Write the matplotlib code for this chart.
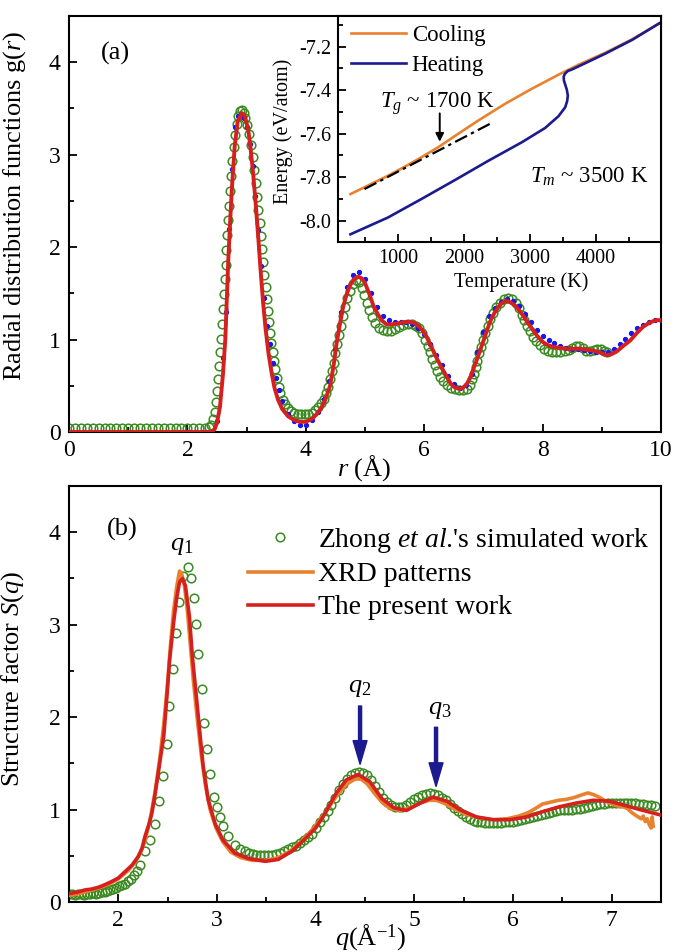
import numpy as np
import matplotlib.pyplot as plt
from matplotlib.ticker import MultipleLocator

plt.rcParams['font.family'] = ['Liberation Serif', 'DejaVu Serif']
plt.rcParams['mathtext.fontset'] = 'custom'
plt.rcParams['mathtext.rm'] = 'Liberation Serif'
plt.rcParams['mathtext.it'] = 'Liberation Serif:italic'
plt.rcParams['axes.unicode_minus'] = False

# ---------------- (a) g(r) ----------------
# Zhong et al. (open circles)
zhong_gr = [
    (0.0, 0.04), (0.1, 0.04), (0.2, 0.04), (0.3, 0.04), (0.4, 0.04), (0.5, 0.04), (0.6, 0.04),
    (0.7, 0.04), (0.8, 0.04), (0.9, 0.04), (1.0, 0.04), (1.1, 0.04), (1.2, 0.04), (1.3, 0.04),
    (1.4, 0.04), (1.5, 0.04), (1.6, 0.04), (1.7, 0.04), (1.8, 0.04), (1.9, 0.04), (2.0, 0.04),
    (2.1, 0.04), (2.2, 0.04), (2.3, 0.04),
    (2.36, 0.05), (2.40, 0.08), (2.43, 0.14), (2.46, 0.22), (2.48, 0.32), (2.50, 0.44), (2.52, 0.57),
    (2.54, 0.71), (2.555, 0.86), (2.57, 1.01), (2.585, 1.17), (2.60, 1.33), (2.615, 1.49), (2.63, 1.65),
    (2.645, 1.81), (2.66, 1.97), (2.675, 2.13), (2.69, 2.29), (2.705, 2.45), (2.72, 2.61), (2.74, 2.77),
    (2.76, 2.93), (2.78, 3.08), (2.80, 3.21), (2.83, 3.33), (2.86, 3.42), (2.89, 3.47), (2.92, 3.48),
    (2.95, 3.45), (2.98, 3.40), (3.01, 3.32), (3.04, 3.22), (3.07, 3.10), (3.10, 2.97), (3.13, 2.83),
    (3.155, 2.69), (3.18, 2.54), (3.20, 2.40), (3.22, 2.26), (3.24, 2.12), (3.26, 1.98), (3.28, 1.84),
    (3.30, 1.70), (3.32, 1.57), (3.34, 1.44), (3.36, 1.31), (3.38, 1.19), (3.40, 1.07), (3.42, 0.96),
    (3.44, 0.86), (3.46, 0.77), (3.48, 0.68), (3.51, 0.58), (3.54, 0.49), (3.57, 0.42), (3.61, 0.35),
    (3.65, 0.30), (3.70, 0.26), (3.75, 0.23), (3.80, 0.21), (3.86, 0.20), (3.92, 0.19), (3.98, 0.19),
    (4.04, 0.20), (4.10, 0.21), (4.16, 0.24), (4.21, 0.27), (4.26, 0.31), (4.30, 0.36), (4.34, 0.42),
    (4.38, 0.49), (4.41, 0.57), (4.44, 0.66), (4.47, 0.75), (4.50, 0.85), (4.53, 0.95), (4.56, 1.05),
    (4.59, 1.15), (4.62, 1.25), (4.66, 1.35), (4.70, 1.45), (4.74, 1.53), (4.79, 1.60), (4.85, 1.64),
    (4.90, 1.62), (4.95, 1.56), (4.99, 1.48), (5.03, 1.40), (5.07, 1.32), (5.12, 1.24), (5.17, 1.18),
    (5.23, 1.13), (5.30, 1.10), (5.37, 1.09), (5.44, 1.09), (5.51, 1.11), (5.58, 1.14), (5.65, 1.16),
    (5.72, 1.17), (5.79, 1.17), (5.86, 1.15), (5.92, 1.12), (5.97, 1.07), (6.02, 1.00), (6.06, 0.93),
    (6.10, 0.86), (6.14, 0.79), (6.18, 0.72), (6.22, 0.66), (6.27, 0.60), (6.32, 0.55), (6.38, 0.51),
    (6.45, 0.48), (6.52, 0.46), (6.59, 0.45), (6.66, 0.45), (6.72, 0.47), (6.77, 0.51), (6.81, 0.57),
    (6.84, 0.63), (6.87, 0.70), (6.90, 0.77), (6.93, 0.85), (6.96, 0.92), (6.99, 1.00), (7.03, 1.07),
    (7.07, 1.15), (7.11, 1.22), (7.16, 1.29), (7.22, 1.35), (7.28, 1.40), (7.35, 1.44), (7.42, 1.45),
    (7.49, 1.44), (7.55, 1.40), (7.60, 1.34), (7.65, 1.27), (7.69, 1.21), (7.73, 1.15), (7.78, 1.09),
    (7.83, 1.03), (7.89, 0.98), (7.95, 0.94), (8.02, 0.90), (8.09, 0.88), (8.16, 0.87), (8.23, 0.87),
    (8.30, 0.87), (8.37, 0.88), (8.44, 0.89), (8.50, 0.91), (8.56, 0.93), (8.62, 0.93), (8.68, 0.91),
    (8.74, 0.88), (8.80, 0.88), (8.86, 0.89), (8.92, 0.90), (8.98, 0.90), (9.04, 0.88), (9.09, 0.86),
]

# blue dots
dots_gr = [
    (2.50, 0.12), (2.60, 0.80), (2.65, 1.30), (2.70, 2.20), (2.75, 2.85), (2.80, 3.30), (2.85, 3.42),
    (2.90, 3.44), (2.95, 3.40), (3.00, 3.30), (3.05, 3.12), (3.10, 2.88), (3.15, 2.55), (3.20, 2.18),
    (3.25, 1.80), (3.30, 1.45), (3.35, 1.15), (3.40, 0.95), (3.45, 0.75), (3.50, 0.58), (3.55, 0.45),
    (3.60, 0.34), (3.70, 0.20), (3.80, 0.12), (3.90, 0.08), (4.00, 0.08), (4.10, 0.13), (4.20, 0.22),
    (4.30, 0.36), (4.40, 0.55), (4.50, 0.90), (4.60, 1.30), (4.70, 1.57), (4.80, 1.70), (4.90, 1.73),
    (5.00, 1.66), (5.10, 1.50), (5.20, 1.35), (5.30, 1.26), (5.40, 1.21), (5.50, 1.19), (5.60, 1.19),
    (5.70, 1.19), (5.80, 1.17), (5.90, 1.13), (6.00, 1.06), (6.10, 0.95), (6.20, 0.83), (6.30, 0.72),
    (6.40, 0.61), (6.50, 0.52), (6.60, 0.48), (6.70, 0.51), (6.80, 0.63), (6.90, 0.86), (7.00, 1.08),
    (7.10, 1.25), (7.20, 1.34), (7.30, 1.41), (7.40, 1.44), (7.50, 1.42), (7.60, 1.36), (7.70, 1.28),
    (7.80, 1.19), (7.90, 1.10), (8.00, 1.04), (8.10, 1.00), (8.20, 0.96), (8.30, 0.93), (8.40, 0.91),
    (8.50, 0.90), (8.60, 0.90), (8.70, 0.89), (8.80, 0.88), (8.90, 0.87), (9.00, 0.86), (9.10, 0.87),
    (9.20, 0.90), (9.30, 0.95), (9.40, 1.01), (9.50, 1.07), (9.60, 1.12), (9.70, 1.16), (9.80, 1.19),
    (9.90, 1.21), (10.0, 1.21),
]

# present work
present_gr = [
    (0.0, 0.0), (2.40, 0.0), (2.46, 0.03), (2.50, 0.10), (2.55, 0.27), (2.60, 0.62), (2.64, 1.00),
    (2.69, 1.85), (2.72, 2.25), (2.75, 2.62), (2.80, 3.10), (2.85, 3.36), (2.92, 3.45), (2.97, 3.42),
    (3.03, 3.26), (3.07, 3.05), (3.11, 2.80), (3.16, 2.42), (3.20, 2.08), (3.24, 1.72), (3.28, 1.39),
    (3.32, 1.12), (3.37, 0.85), (3.42, 0.65), (3.47, 0.48), (3.53, 0.35), (3.60, 0.25), (3.70, 0.17),
    (3.80, 0.13), (3.90, 0.11), (4.00, 0.11), (4.10, 0.14), (4.18, 0.19), (4.26, 0.26), (4.33, 0.35),
    (4.41, 0.50), (4.47, 0.72), (4.52, 0.96), (4.58, 1.18), (4.63, 1.35), (4.69, 1.49), (4.75, 1.59),
    (4.82, 1.66), (4.89, 1.68), (4.95, 1.66), (5.00, 1.61), (5.07, 1.50), (5.14, 1.37), (5.21, 1.28),
    (5.28, 1.21), (5.35, 1.17), (5.42, 1.16), (5.50, 1.17), (5.59, 1.18), (5.68, 1.19), (5.76, 1.19),
    (5.83, 1.18), (5.90, 1.15), (5.97, 1.10), (6.04, 1.03), (6.12, 0.92), (6.21, 0.80), (6.30, 0.69),
    (6.38, 0.60), (6.45, 0.52), (6.52, 0.48), (6.60, 0.465), (6.66, 0.48), (6.72, 0.52), (6.78, 0.59),
    (6.83, 0.68), (6.90, 0.80), (6.97, 0.93), (7.04, 1.06), (7.11, 1.19), (7.18, 1.28), (7.25, 1.35),
    (7.32, 1.40), (7.39, 1.42), (7.46, 1.40), (7.53, 1.37), (7.60, 1.32), (7.67, 1.26), (7.75, 1.18),
    (7.84, 1.10), (7.92, 1.03), (8.01, 0.97), (8.09, 0.94), (8.18, 0.92), (8.30, 0.91), (8.41, 0.90),
    (8.52, 0.90), (8.63, 0.90), (8.75, 0.89), (8.86, 0.88), (8.97, 0.86), (9.08, 0.83), (9.16, 0.84),
    (9.25, 0.87), (9.36, 0.93), (9.48, 0.99), (9.59, 1.07), (9.70, 1.14), (9.80, 1.18), (9.87, 1.20),
    (9.93, 1.21), (10.0, 1.21),
]

# ---------------- inset: energy vs temperature ----------------
cool_T = [274, 560, 842, 1100, 1350, 1604, 1909, 2214, 2621, 3026, 3433, 3738, 4145, 4551, 4957, 4990]
cool_E = [-7.878, -7.836, -7.794, -7.752, -7.709, -7.663, -7.601, -7.540, -7.463, -7.394, -7.329, -7.283,
          -7.228, -7.166, -7.094, -7.089]
heat_T = [274, 842, 1350, 1858, 2367, 2875, 3230, 3433, 3535, 3565, 3575, 3560, 3540, 3515, 3512, 3530,
          3575, 3637, 3840, 4145, 4551, 4957, 4990]
heat_E = [-8.063, -7.986, -7.901, -7.814, -7.725, -7.640, -7.574, -7.520, -7.479, -7.450, -7.425, -7.398,
          -7.379, -7.355, -7.338, -7.325, -7.312, -7.305, -7.276, -7.232, -7.169, -7.094, -7.089]
glass_fit_T = [487, 2392]
glass_fit_E = [-7.855, -7.555]

# ---------------- (b) S(q) ----------------
zhong_sq = [
    (1.50, 0.09), (1.53, 0.09), (1.56, 0.08), (1.59, 0.09), (1.62, 0.09), (1.65, 0.08), (1.68, 0.09),
    (1.71, 0.09), (1.74, 0.10), (1.77, 0.09), (1.80, 0.10), (1.83, 0.11), (1.86, 0.11), (1.89, 0.12),
    (1.92, 0.13), (1.95, 0.14), (1.98, 0.15), (2.01, 0.17), (2.04, 0.18), (2.07, 0.20), (2.10, 0.23),
    (2.13, 0.25), (2.16, 0.29), (2.19, 0.33), (2.22, 0.40), (2.27, 0.55), (2.32, 0.67), (2.37, 0.84),
    (2.415, 1.09), (2.456, 1.36), (2.489, 1.71), (2.516, 2.12), (2.550, 2.52), (2.584, 2.91),
    (2.614, 3.24), (2.658, 3.53), (2.702, 3.62), (2.736, 3.51), (2.770, 3.29), (2.783, 3.01),
    (2.810, 2.68), (2.844, 2.30), (2.871, 1.94), (2.895, 1.65), (2.928, 1.38), (2.972, 1.14),
    (2.996, 1.03), (3.030, 0.92), (3.064, 0.82), (3.114, 0.71), (3.18, 0.62), (3.23, 0.57), (3.28, 0.55),
    (3.32, 0.53), (3.36, 0.52), (3.40, 0.51), (3.44, 0.51), (3.48, 0.51), (3.52, 0.51), (3.56, 0.51),
    (3.60, 0.52), (3.64, 0.53), (3.68, 0.55), (3.72, 0.57), (3.76, 0.59), (3.80, 0.61), (3.84, 0.64),
    (3.88, 0.67), (3.92, 0.70), (3.96, 0.74), (4.00, 0.80), (4.04, 0.86), (4.08, 0.92), (4.12, 0.98),
    (4.16, 1.05), (4.20, 1.13), (4.24, 1.21), (4.28, 1.28), (4.32, 1.33), (4.36, 1.37), (4.40, 1.40),
    (4.44, 1.41), (4.48, 1.40), (4.52, 1.37), (4.56, 1.32), (4.60, 1.26), (4.64, 1.19), (4.68, 1.13),
    (4.72, 1.08), (4.76, 1.05), (4.80, 1.03), (4.84, 1.03), (4.88, 1.03), (4.92, 1.05), (4.96, 1.08),
    (5.00, 1.11), (5.04, 1.14), (5.08, 1.16), (5.12, 1.17), (5.16, 1.18), (5.20, 1.17), (5.24, 1.16),
    (5.28, 1.13), (5.32, 1.10), (5.36, 1.06), (5.40, 1.02), (5.44, 0.98), (5.48, 0.95), (5.52, 0.92),
    (5.56, 0.90), (5.60, 0.88), (5.64, 0.87), (5.68, 0.86), (5.72, 0.85), (5.76, 0.85), (5.80, 0.85),
    (5.84, 0.85), (5.88, 0.85), (5.92, 0.86), (5.96, 0.86), (6.00, 0.87), (6.04, 0.88), (6.08, 0.89),
    (6.12, 0.90), (6.16, 0.91), (6.20, 0.92), (6.24, 0.93), (6.28, 0.94), (6.32, 0.95), (6.36, 0.96),
    (6.40, 0.97), (6.44, 0.98), (6.48, 0.99), (6.52, 0.99), (6.56, 1.00), (6.60, 1.00), (6.64, 1.01),
    (6.68, 1.01), (6.72, 1.02), (6.76, 1.03), (6.80, 1.04), (6.84, 1.05), (6.88, 1.06), (6.92, 1.06),
    (6.96, 1.07), (7.00, 1.07), (7.04, 1.07), (7.08, 1.07), (7.12, 1.07), (7.16, 1.07), (7.20, 1.07),
    (7.24, 1.07), (7.28, 1.06), (7.32, 1.06), (7.36, 1.05), (7.40, 1.05), (7.44, 1.04),
]

xrd_sq = [
    (1.50, 0.07), (1.60, 0.09), (1.70, 0.12), (1.80, 0.15), (1.90, 0.19), (2.00, 0.25), (2.10, 0.34),
    (2.17, 0.43), (2.22, 0.52), (2.27, 0.66), (2.32, 0.88), (2.37, 1.18), (2.42, 1.55), (2.46, 1.92),
    (2.50, 2.38), (2.53, 2.80), (2.56, 3.15), (2.59, 3.40), (2.62, 3.58), (2.64, 3.56), (2.67, 3.42),
    (2.70, 3.15), (2.73, 2.78), (2.76, 2.40), (2.80, 1.98), (2.84, 1.60), (2.88, 1.28), (2.93, 1.00),
    (2.99, 0.80), (3.06, 0.65), (3.14, 0.54), (3.24, 0.48), (3.36, 0.45), (3.50, 0.45), (3.62, 0.48),
    (3.74, 0.55), (3.86, 0.66), (3.98, 0.80), (4.10, 0.97), (4.22, 1.16), (4.32, 1.28), (4.40, 1.33),
    (4.46, 1.33), (4.52, 1.28), (4.60, 1.17), (4.68, 1.07), (4.76, 1.01), (4.86, 0.99), (4.96, 1.02),
    (5.06, 1.07), (5.15, 1.10), (5.22, 1.10), (5.30, 1.07), (5.40, 1.01), (5.52, 0.95), (5.66, 0.91),
    (5.80, 0.89), (5.94, 0.90), (6.06, 0.93), (6.16, 0.97), (6.24, 1.02), (6.30, 1.06), (6.38, 1.08),
    (6.46, 1.10), (6.54, 1.11), (6.62, 1.13), (6.70, 1.16), (6.76, 1.18), (6.82, 1.16), (6.88, 1.13),
    (6.94, 1.09), (7.00, 1.06), (7.06, 1.04), (7.12, 1.03), (7.16, 1.01), (7.20, 0.97), (7.24, 0.94),
    (7.27, 0.92), (7.30, 0.90), (7.32, 0.93), (7.34, 0.87), (7.36, 0.90), (7.38, 0.84), (7.40, 0.80),
    (7.41, 0.92), (7.42, 0.82),
]

present_sq = [
    (1.50, 0.09), (1.60, 0.11), (1.66, 0.13), (1.73, 0.14), (1.80, 0.16), (1.87, 0.19), (1.93, 0.22),
    (2.00, 0.26), (2.07, 0.33), (2.14, 0.40), (2.20, 0.49), (2.24, 0.58), (2.27, 0.71), (2.31, 0.84),
    (2.34, 0.96), (2.37, 1.15), (2.40, 1.36), (2.43, 1.58), (2.46, 1.79), (2.49, 2.19), (2.52, 2.62),
    (2.56, 3.02), (2.59, 3.28), (2.62, 3.46), (2.65, 3.50), (2.68, 3.42), (2.72, 3.09), (2.75, 2.66),
    (2.79, 2.23), (2.83, 1.79), (2.86, 1.47), (2.91, 1.11), (2.98, 0.85), (3.06, 0.67), (3.18, 0.53),
    (3.32, 0.47), (3.49, 0.44), (3.62, 0.46), (3.76, 0.55), (3.89, 0.68), (4.00, 0.80), (4.08, 0.93),
    (4.21, 1.18), (4.31, 1.32), (4.43, 1.38), (4.55, 1.30), (4.67, 1.12), (4.79, 1.02), (4.92, 0.99),
    (5.06, 1.07), (5.19, 1.135), (5.33, 1.09), (5.46, 1.00), (5.63, 0.92), (5.80, 0.89), (5.97, 0.89),
    (6.14, 0.92), (6.31, 0.98), (6.47, 1.03), (6.64, 1.07), (6.81, 1.10), (6.98, 1.09), (7.15, 1.04),
    (7.32, 0.99), (7.50, 0.94),
]

RED = '#D6201F'
GREEN = '#3B8A22'
ORANGE = '#E8822E'
NAVY = '#1B1A8E'
BLUE = '#1616F0'

W, H = 674, 952
fig = plt.figure(figsize=(W / 100, H / 100), dpi=100)


def px_axes(left, top, right, bottom):
    return fig.add_axes([left / W, 1 - bottom / H, (right - left) / W, (bottom - top) / H])


def style(ax, size):
    for s in ax.spines.values():
        s.set_linewidth(1.5)
    ax.tick_params(which='both', direction='in', width=1.3, labelsize=size, pad=6,
                   top=False, right=False)
    ax.tick_params(which='major', length=6)
    ax.tick_params(which='minor', length=3.5)


# ---------- panel (a) ----------
ax = px_axes(69, 16, 661, 432)
r, g = np.array(zhong_gr).T
ax.plot(r, g, 'o', mfc='none', mec=GREEN, ms=6.2, mew=1.1, zorder=2)
r, g = np.array(dots_gr).T
ax.plot(r, g, 'o', color=BLUE, ms=2.8, zorder=3)
r, g = np.array(present_gr).T
ax.plot(r, g, '-', color=RED, lw=2.8, zorder=4)
ax.set_xlim(0, 10)
ax.set_ylim(0, 4.5)
ax.xaxis.set_major_locator(MultipleLocator(2))
ax.xaxis.set_minor_locator(MultipleLocator(1))
ax.yaxis.set_major_locator(MultipleLocator(1))
ax.yaxis.set_minor_locator(MultipleLocator(0.5))
style(ax, 17)
ax.set_xlabel(r'$r$ (Å)', fontsize=19)
ax.xaxis.set_label_coords(0.498, -0.05)
ax.xaxis.label.set_va('top')
ax.set_ylabel(r'Radial distribution functions g($r$)', fontsize=19)
ax.yaxis.set_label_coords(-0.069, 0.543)
ax.text(0.78, 4.09, '(a)', fontsize=19, ha='center', va='center')

# ---------- inset ----------
ins = px_axes(338, 16, 661, 241.7)
ins.plot(cool_T, cool_E, color=ORANGE, lw=1.9, label='Cooling')
ins.plot(heat_T, heat_E, color=NAVY, lw=1.9, label='Heating')
ins.plot(glass_fit_T, glass_fit_E, color='black', lw=1.6, ls=(0, (6, 2, 1.5, 2)))
ins.set_xlim(85, 4990)
ins.set_ylim(-8.097, -7.059)
ins.xaxis.set_major_locator(MultipleLocator(1000))
ins.xaxis.set_minor_locator(MultipleLocator(500))
ins.yaxis.set_major_locator(MultipleLocator(0.2))
ins.yaxis.set_minor_locator(MultipleLocator(0.1))
style(ins, 14.5)
ins.tick_params(pad=5)
ins.yaxis.set_major_formatter(plt.FuncFormatter(lambda v, p: f'{v:.1f}'))
ins.set_xlabel('Temperature (K)', fontsize=14.5)
ins.xaxis.set_label_coords(0.568, -0.18)
ins.xaxis.label.set_va('center')
ins.set_ylabel('Energy (eV/atom)', fontsize=14.5)
ins.yaxis.set_label_coords(-0.171, 0.49)
ins.yaxis.label.set_va('center')
ins.legend(loc='upper left', bbox_to_anchor=(0.04, 0.962), frameon=False, fontsize=16.5,
           handlelength=2.4, handletextpad=0.25, labelspacing=0.42, borderpad=0, borderaxespad=0)
ins.text(716, -7.463, r'$T_g$ ~ 1700 K', fontsize=16.5, ha='left', va='center')
ins.text(2996, -7.797, r'$T_m$ ~ 3500 K', fontsize=16.5, ha='left', va='center')
ins.annotate('', xy=(1630, -7.650), xytext=(1630, -7.494),
             arrowprops=dict(arrowstyle='-|>', color='black', lw=1.4, mutation_scale=12))

# ---------- panel (b) ----------
bx = px_axes(69, 486, 661, 902)
q, s = np.array(zhong_sq).T
bx.plot(q, s, 'o', mfc='none', mec=GREEN, ms=6.2, mew=1.1, zorder=2,
        label=r"Zhong $et$ $al$.'s simulated work")
q, s = np.array(xrd_sq).T
bx.plot(q, s, '-', color=ORANGE, lw=2.6, zorder=3, label='XRD patterns')
q, s = np.array(present_sq).T
bx.plot(q, s, '-', color=RED, lw=2.6, zorder=4, label='The present work')
bx.set_xlim(1.5, 7.5)
bx.set_ylim(0, 4.5)
bx.xaxis.set_major_locator(MultipleLocator(1))
bx.xaxis.set_minor_locator(MultipleLocator(0.5))
bx.yaxis.set_major_locator(MultipleLocator(1))
bx.yaxis.set_minor_locator(MultipleLocator(0.5))
style(bx, 17)
bx.set_xlabel(r'$q$(Å$^{-1}$)', fontsize=19)
bx.xaxis.set_label_coords(0.51, -0.05)
bx.xaxis.label.set_va('top')
bx.set_ylabel(r'Structure factor $S$($q$)', fontsize=19)
bx.yaxis.set_label_coords(-0.073, 0.536)
bx.text(2.04, 4.03, '(b)', fontsize=19, ha='center', va='center')
bx.legend(loc='upper left', bbox_to_anchor=(0.302, 0.905), frameon=False, fontsize=20,
          handlelength=2.34, handletextpad=0.18, labelspacing=0.27, borderpad=0, borderaxespad=0)
bx.text(2.645, 3.85, r'$q_1$', fontsize=19, ha='center', va='center')
bx.text(4.45, 2.32, r'$q_2$', fontsize=19, ha='center', va='center')
bx.text(5.26, 2.08, r'$q_3$', fontsize=19, ha='center', va='center')
for qx, s0, s1 in [(4.45, 2.12, 1.49), (5.22, 1.89, 1.25)]:
    bx.annotate('', xy=(qx, s1), xytext=(qx, s0),
                arrowprops=dict(facecolor=NAVY, edgecolor=NAVY, width=2.2, headwidth=10,
                                headlength=17, shrink=0))

fig.savefig('out.png', dpi=100)
